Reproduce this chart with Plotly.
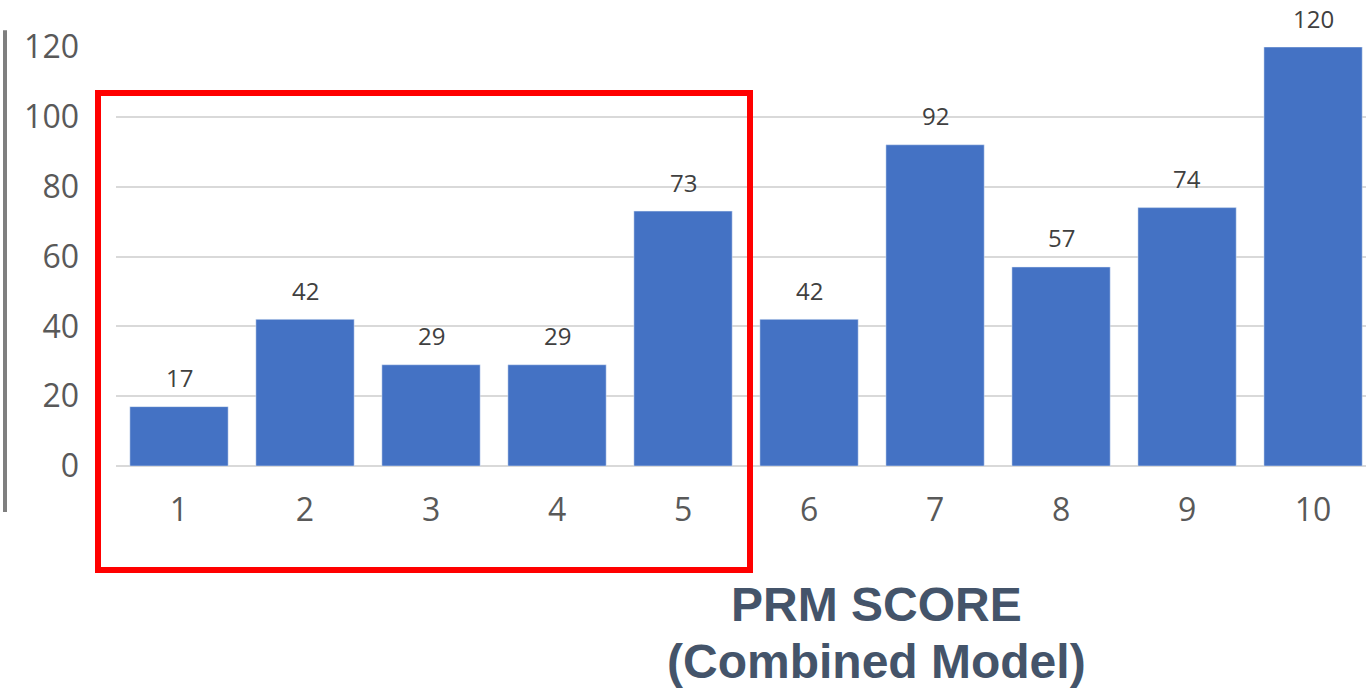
import plotly.graph_objects as go

# PRM score bins and counts
scores = [1, 2, 3, 4, 5, 6, 7, 8, 9, 10]
counts = [17, 42, 29, 29, 73, 42, 92, 57, 74, 120]
y_ticks = [0, 20, 40, 60, 80, 100, 120]
title_lines = ['PRM SCORE', '(Combined Model)']

fig = go.Figure()

fig.add_trace(go.Bar(
    x=scores,
    y=counts,
    marker_color='#4472c4',
    cliponaxis=False,
))

# value labels above bars
for s, c in zip(scores, counts):
    fig.add_annotation(
        x=s, y=c, text=str(c), showarrow=False,
        yanchor='middle', yshift=29,
        font=dict(family='Open Sans, sans-serif', size=24, color='#404040'),
    )

# red box around scores 1-5
fig.add_shape(type='rect', xref='paper', yref='paper',
              x0=-0.0144, x1=0.5072, y0=-0.248, y1=0.890,
              line=dict(color='#ff0000', width=6))

# gray vertical line on the far left
fig.add_shape(type='line', xref='paper', yref='paper',
              x0=-0.0888, x1=-0.0888, y0=-0.11, y1=1.04,
              line=dict(color='#7f7f7f', width=4))

# axis title, two lines placed separately for tighter spacing
for txt, ypos in zip(title_lines, [-0.2625, -0.3986]):
    fig.add_annotation(
        text=f'<b>{txt}</b>',
        xref='paper', yref='paper', x=0.6085, y=ypos,
        xanchor='center', yanchor='top', showarrow=False,
        font=dict(family='Liberation Sans, Arial, sans-serif', size=48, color='#44546a'),
    )

fig.update_layout(
    width=1366, height=692,
    margin=dict(l=116, r=0, t=47, b=226),
    plot_bgcolor='white', paper_bgcolor='white',
    bargap=0.22,
    showlegend=False,
)

fig.update_xaxes(
    range=[0.5, 10.42], tickvals=scores,
    tickfont=dict(family='Open Sans, sans-serif', size=32, color='#595959'),
    ticklabelstandoff=22, showgrid=False, showline=False, zeroline=False,
)
fig.update_yaxes(
    range=[0, 120], tickvals=y_ticks,
    tickfont=dict(family='Open Sans, sans-serif', size=32, color='#595959'),
    ticklabelstandoff=36, gridcolor='#d9d9d9', gridwidth=1.5,
    zeroline=True, zerolinecolor='#d9d9d9', zerolinewidth=1.5, showline=False,
)

fig.write_html('out.html', config={'displayModeBar': False},
               post_script="document.body.style.margin='0';")
